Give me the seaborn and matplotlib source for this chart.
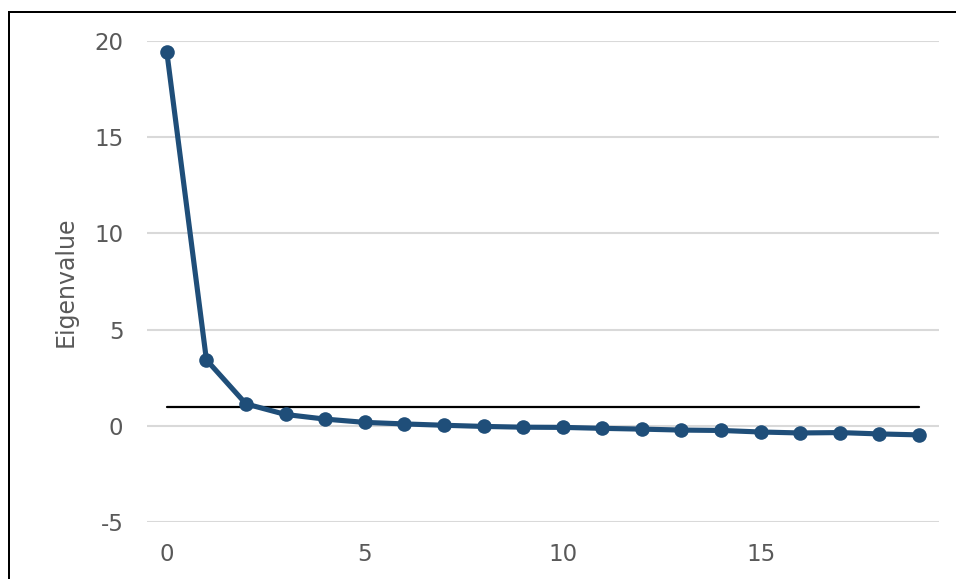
import matplotlib
matplotlib.use("Agg")
import matplotlib.pyplot as plt
import matplotlib.patches as mpatches
import pandas as pd
import seaborn as sns

# ── Data ──────────────────────────────────────────────────────────────────────
components = list(range(20))
eigenvalues = [19.43, 3.43, 1.14, 0.59, 0.35, 0.18, 0.10, 0.03, -0.03, -0.07,
               -0.08, -0.13, -0.17, -0.22, -0.24, -0.32, -0.37, -0.35, -0.42, -0.47]
cutoff_x = [0, 19]
cutoff_y = [1, 1]
x_ticks = [0, 5, 10, 15]
y_ticks = [-5, 0, 5, 10, 15, 20]

df = pd.DataFrame({"component": components, "eigenvalue": eigenvalues})
cut = pd.DataFrame({"component": cutoff_x, "eigenvalue": cutoff_y})

# ── Plot ──────────────────────────────────────────────────────────────────────
sns.set_style("white")
plt.rcParams['font.family'] = ['DejaVu Sans']

BLUE = '#1F4E79'
GREY = '#595959'

fig = plt.figure(figsize=(9.56, 5.79), dpi=100)
ax = fig.add_axes([0.1538, 0.0984, 0.982 - 0.1538, 0.929 - 0.0984])

sns.lineplot(data=cut, x="component", y="eigenvalue", color='black',
             linewidth=1.6, ax=ax, zorder=3)
sns.lineplot(data=df, x="component", y="eigenvalue", color=BLUE,
             linewidth=3.7, marker='o', markersize=10.5, markeredgewidth=0,
             ax=ax, zorder=4)

ax.set_xlim(-0.5, 19.5)
ax.set_ylim(-5, 20)
ax.set_xticks(x_ticks)
ax.set_yticks(y_ticks)
ax.set_yticklabels([str(t) for t in y_ticks])
ax.grid(axis='y', color='#D9D9D9', linewidth=1.5)
ax.set_axisbelow(True)
for s in ax.spines.values():
    s.set_visible(False)

ax.tick_params(axis='y', length=0, pad=17, labelsize=16.5, labelcolor=GREY)
ax.tick_params(axis='x', length=0, pad=15, labelsize=16.5, labelcolor=GREY)
ax.set_xlabel('')
ax.set_ylabel('Eigenvalue', fontsize=17, color=GREY, labelpad=12)

# chart border (only top and left edges visible in the crop), drawn as thin bars
W, H = 956, 579
fig.patches.append(mpatches.Rectangle((8 / W, 1 - 13 / H), 1 - 8 / W, 2 / H,
                                      transform=fig.transFigure, facecolor='black',
                                      edgecolor='none', linewidth=0))
fig.patches.append(mpatches.Rectangle((8 / W, 0), 2 / W, 1 - 11 / H,
                                      transform=fig.transFigure, facecolor='black',
                                      edgecolor='none', linewidth=0))

plt.savefig('out.png', dpi=100)
